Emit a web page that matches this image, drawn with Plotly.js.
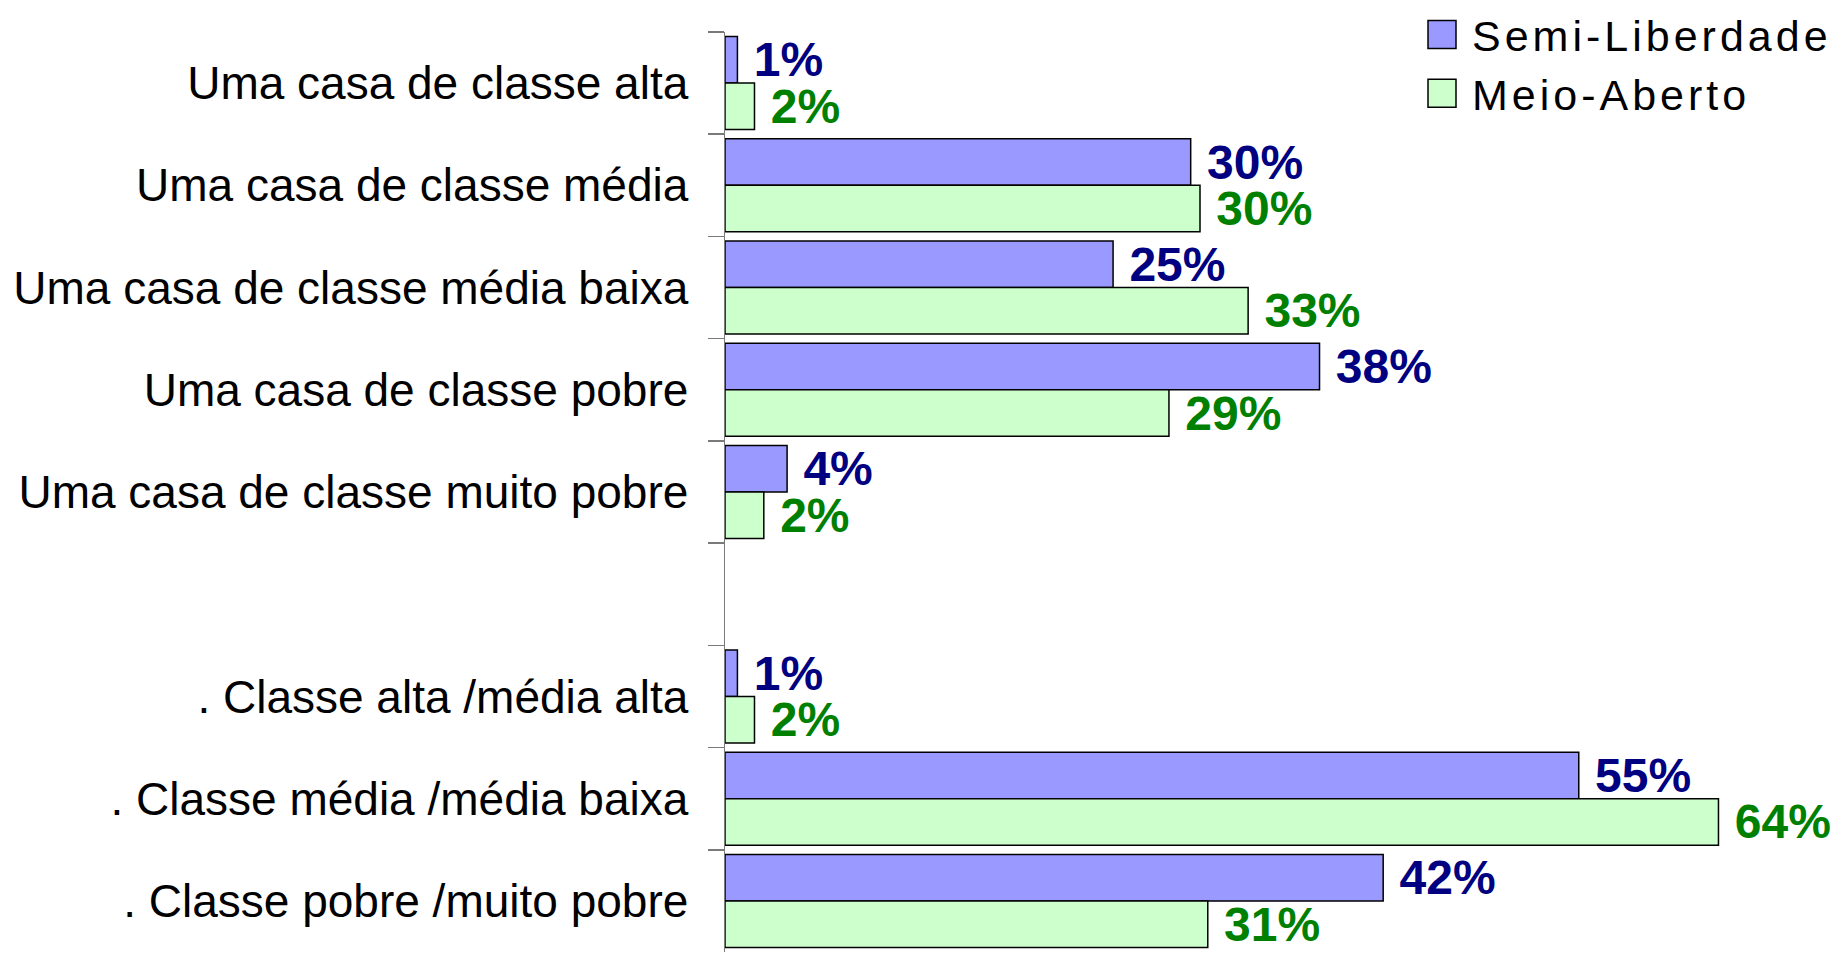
<!DOCTYPE html>
<html>
<head>
<meta charset="utf-8">
<script src="https://cdn.plot.ly/plotly-3.0.1.min.js"></script>
<style>
  html, body { margin: 0; padding: 0; background: #ffffff; }
  #chart { width: 1838px; height: 954px; }
  .legend .legendtext { letter-spacing: 4px; }
</style>
</head>
<body>
<div id="chart"></div>
<script>
// Categories (top to bottom); the blank one is the gap between the two groups
const categories = [
  'Uma casa de classe alta',
  'Uma casa de classe média',
  'Uma casa de classe média baixa',
  'Uma casa de classe pobre',
  'Uma casa de classe muito pobre',
  ' ',
  '. Classe alta /média alta',
  '. Classe média /média baixa',
  '. Classe pobre /muito pobre'
];

const seriesNames = ['Semi-Liberdade', 'Meio-Aberto'];

// Bar lengths (percent)
const semiValues = [0.8, 30.0, 25.0, 38.3, 4.0, null, 0.8, 55.0, 42.4];
const meioValues = [1.9, 30.6, 33.7, 28.6, 2.5, null, 1.9, 64.0, 31.1];

// Printed data labels
const semiLabels = ['1%', '30%', '25%', '38%', '4%', '', '1%', '55%', '42%'];
const meioLabels = ['2%', '30%', '33%', '29%', '2%', '', '2%', '64%', '31%'];

const labelFont = 'Liberation Sans, Arial, Helvetica, sans-serif';

const traces = [
  {
    type: 'bar',
    orientation: 'h',
    name: seriesNames[0],
    y: categories,
    x: semiValues,
    text: semiLabels.map(s => s ? '\u00a0' + s : ''),
    textposition: 'outside',
    constraintext: 'none',
    cliponaxis: false,
    textfont: { family: labelFont, size: 48, weight: 'bold', color: '#000080' },
    marker: { color: '#9999FF', line: { color: '#000000', width: 1.5 } },
    legendgroup: 'a',
    hoverinfo: 'x+y'
  },
  {
    type: 'bar',
    orientation: 'h',
    name: seriesNames[1],
    y: categories,
    x: meioValues,
    text: meioLabels.map(s => s ? '\u00a0' + s : ''),
    textposition: 'outside',
    constraintext: 'none',
    cliponaxis: false,
    textfont: { family: labelFont, size: 48, weight: 'bold', color: '#008000' },
    marker: { color: '#CCFFCC', line: { color: '#000000', width: 1.5 } },
    legendgroup: 'b',
    hoverinfo: 'x+y'
  }
];

const layout = {
  width: 1838,
  height: 954,
  margin: { l: 725, r: 0, t: 32, b: 2, pad: 0, autoexpand: false },
  paper_bgcolor: '#ffffff',
  plot_bgcolor: '#ffffff',
  barmode: 'group',
  bargap: 0.09,
  bargroupgap: 0,
  showlegend: true,
  legend: {
    xref: 'container', yref: 'container',
    x: 1432 / 1838, y: 1.009, xanchor: 'left', yanchor: 'top',
    bgcolor: 'rgba(0,0,0,0)',
    font: { family: labelFont, size: 43, color: '#000000' },
    traceorder: 'normal',
    tracegroupgap: 12
  },
  xaxis: {
    range: [0, 71.7],
    showgrid: false, zeroline: false, showline: false,
    showticklabels: false, ticks: '', fixedrange: true
  },
  yaxis: {
    type: 'category',
    autorange: 'reversed',
    showgrid: false, zeroline: false,
    showline: true, linecolor: '#7a7a7a', linewidth: 1.5,
    ticks: 'outside', tickson: 'boundaries', ticklen: 16,
    tickcolor: '#7a7a7a', tickwidth: 1.5,
    ticklabelstandoff: 26,
    tickfont: { family: labelFont, size: 46, color: '#000000' },
    layer: 'below traces',
    fixedrange: true
  }
};

Plotly.newPlot('chart', traces, layout, { displayModeBar: false, staticPlot: true }).then(() => {
  document.querySelectorAll('.legend .legendpoints path').forEach(p => {
    p.setAttribute('d', 'M4,14H-24V-14H4Z');
    p.style.strokeWidth = '1.5px';
    p.style.stroke = '#000000';
  });
  document.querySelectorAll('.legend [clip-path]').forEach(e => e.removeAttribute('clip-path'));
});
</script>
</body>
</html>
